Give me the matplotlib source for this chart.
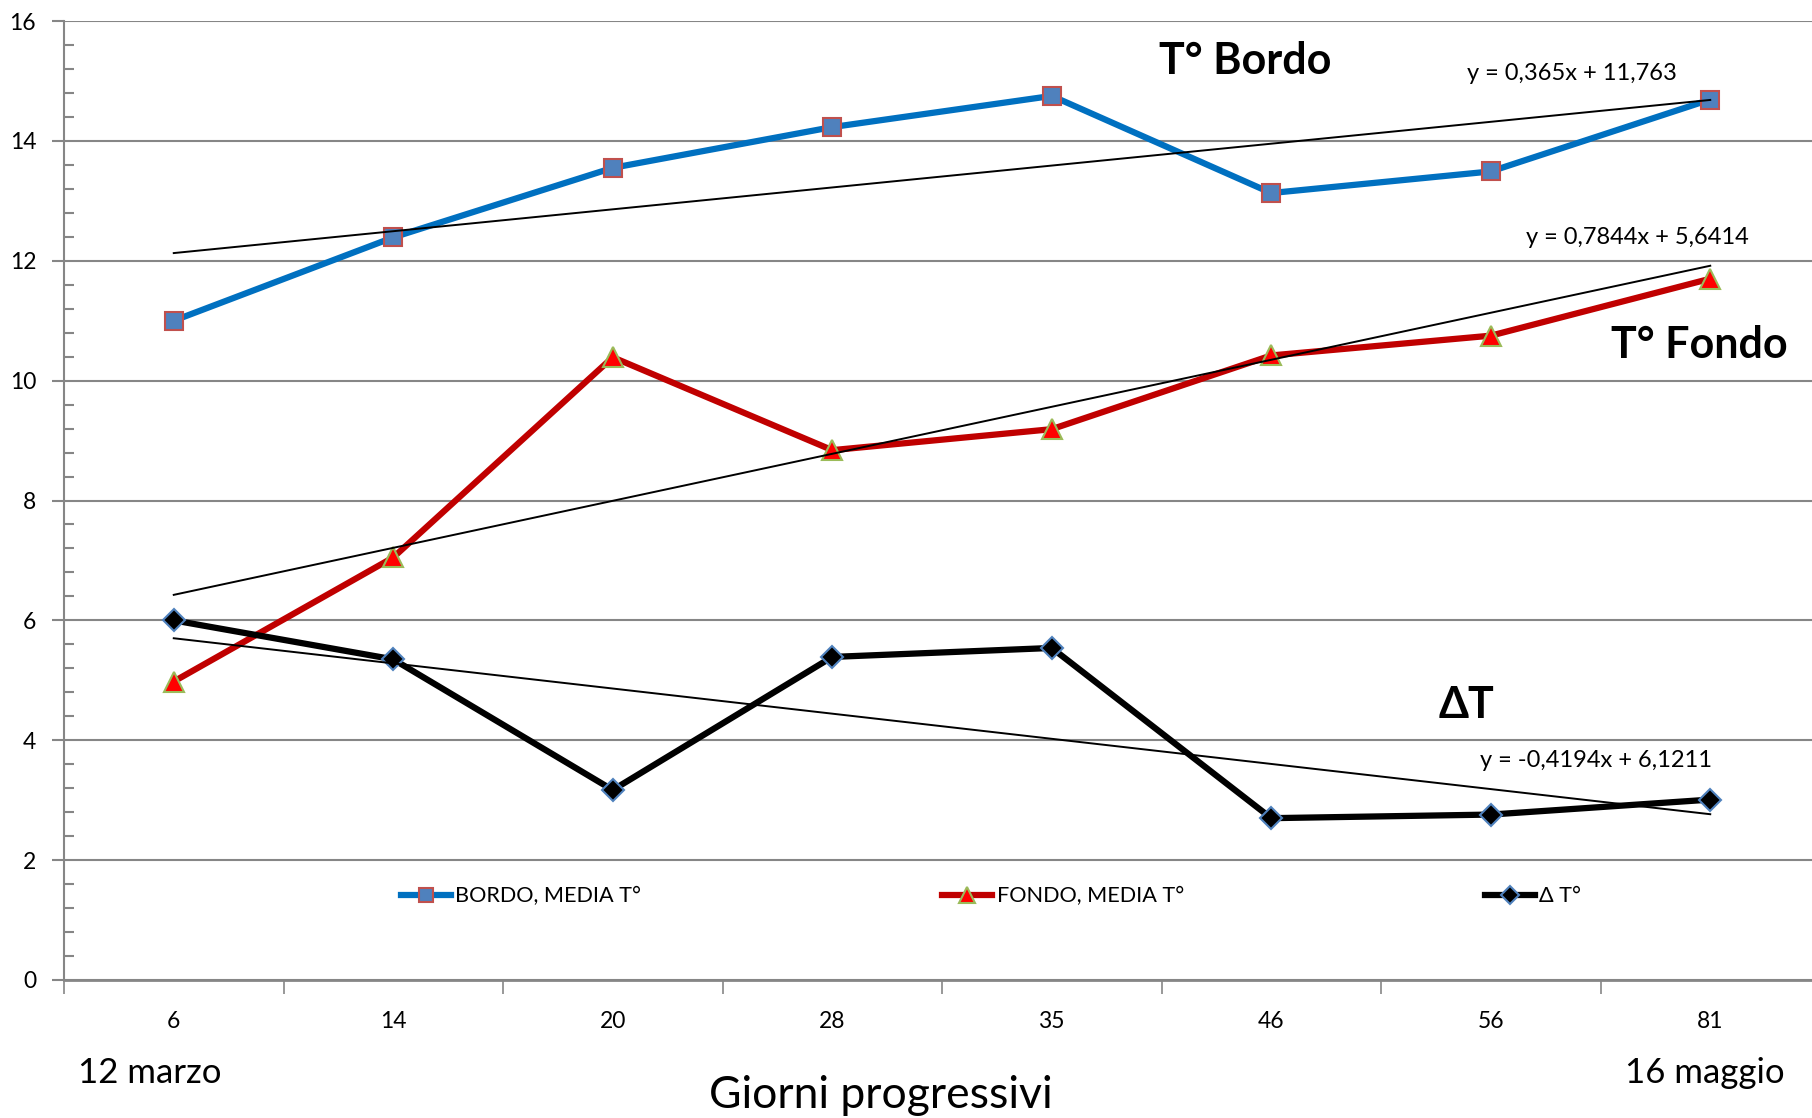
import numpy as np
import matplotlib
matplotlib.use("Agg")
import matplotlib.pyplot as plt
from matplotlib.ticker import MultipleLocator, FixedLocator, NullFormatter

plt.rcParams['font.family'] = ['Lato', 'DejaVu Sans']

# ── data ───────────────────────────────────────────────
giorni = ["6", "14", "20", "28", "35", "46", "56", "81"]
bordo = [11.00, 12.39, 13.55, 14.23, 14.75, 13.13, 13.49, 14.69]
fondo = [4.98, 7.05, 10.39, 8.84, 9.19, 10.42, 10.75, 11.70]
delta = [6.00, 5.35, 3.17, 5.39, 5.54, 2.70, 2.76, 3.01]

# linear trendlines (slope, intercept), x = 1..8
trend_bordo = (0.365, 11.763)
trend_fondo = (0.7844, 5.6414)
trend_delta = (-0.4194, 6.1211)

GRID = "#868686"

fig = plt.figure(figsize=(18.12, 11.18), dpi=100)
ax = fig.add_axes([64 / 1812, 1 - 980 / 1118, 1756 / 1812, 959 / 1118])

x = np.arange(len(giorni))
xt = x + 1  # trendline abscissa as in the spreadsheet

ax.plot(x, bordo, color="#0070C0", lw=4.5, marker="s", ms=13,
        mfc="#4F81BD", mec="#C0504D", mew=1.5, label="BORDO, MEDIA T°", zorder=4)
ax.plot(x, fondo, color="#C00000", lw=4.5, marker="^", ms=15,
        mfc="#FF0000", mec="#9BBB59", mew=1.5, label="FONDO, MEDIA T°", zorder=4)
ax.plot(x, delta, color="black", lw=4.5, marker="D", ms=11,
        mfc="black", mec="#4F81BD", mew=1.5, label="Δ T°", zorder=4)

for a, b in (trend_bordo, trend_fondo, trend_delta):
    ax.plot(x, a * xt + b, color="black", lw=1.4, zorder=5)

ax.set_xlim(-0.5, len(giorni) - 0.5)
ax.set_ylim(0, 16)

# y axis: majors every 2 with grid, minors every 0.4 pointing inward
ax.yaxis.set_major_locator(MultipleLocator(2))
ax.yaxis.set_minor_locator(MultipleLocator(0.4))
ax.tick_params(axis="y", which="major", length=9, width=1.5, color=GRID,
               labelsize=16.5, pad=11)
ax.tick_params(axis="y", which="minor", direction="in", length=7, width=1.5, color=GRID)
ax.grid(axis="y", which="major", color=GRID, lw=1.5)
ax.set_axisbelow(True)

# x axis: ticks between categories, labels centred on them
ax.xaxis.set_major_locator(FixedLocator(np.arange(-0.5, len(giorni), 1.0)))
ax.xaxis.set_major_formatter(NullFormatter())
ax.xaxis.set_minor_locator(FixedLocator(x))
ax.set_xticklabels(giorni, minor=True)
ax.tick_params(axis="x", which="major", length=10, width=1.2, color=GRID)
ax.tick_params(axis="x", which="minor", length=0, labelsize=16.5, pad=22)

for s in ("top", "right"):
    ax.spines[s].set_visible(False)
ax.spines["left"].set_color(GRID)
ax.spines["left"].set_linewidth(1.5)
ax.spines["bottom"].set_color(GRID)
ax.spines["bottom"].set_linewidth(2)

# series names and trendline equations
ax.text(4.88, 15.33, "T° Bordo", fontsize=31, fontweight="bold", ha="center", va="center")
ax.text(6.95, 10.6, "T° Fondo", fontsize=31, fontweight="bold", ha="center", va="center")
ax.text(5.89, 4.58, "ΔT", fontsize=31, fontweight="bold", ha="center", va="center")
ax.text(6.37, 15.13, "y = 0,365x + 11,763", fontsize=17, ha="center", va="center")
ax.text(6.67, 12.38, "y = 0,7844x + 5,6414", fontsize=17, ha="center", va="center")
ax.text(6.48, 3.67, "y = -0,4194x + 6,1211", fontsize=17, ha="center", va="center")

ax.legend(loc="center", bbox_to_anchor=(0.528, 1.4 / 16), ncol=3, frameon=False,
          fontsize=15.6, handlelength=2.3, handletextpad=0.2, columnspacing=13.9,
          markerscale=0.8)

fig.text(150 / 1812, 1 - 1073 / 1118, "12 marzo", fontsize=25, ha="center", va="center")
fig.text(1705 / 1812, 1 - 1073 / 1118, "16 maggio", fontsize=25, ha="center", va="center")
fig.text(881 / 1812, 1 - 1096 / 1118, "Giorni progressivi", fontsize=32, ha="center", va="center")

fig.savefig("out.png", dpi=100)
